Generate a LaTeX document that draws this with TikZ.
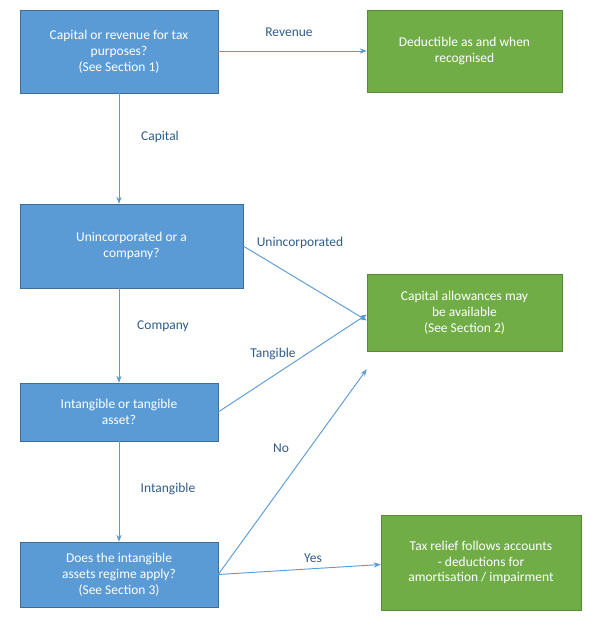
\documentclass[tikz,border=0pt]{standalone}
\usepackage{fontspec}
\setmainfont{Carlito}
\usetikzlibrary{positioning, arrows.meta}
\definecolor{boxblue}{HTML}{5B9BD5}
\definecolor{boxgreen}{HTML}{70AD47}
\definecolor{lineblue}{HTML}{5B9BD5}
\definecolor{textblue}{HTML}{2E5C8A}
\tikzset{
    x=0.03cm, y=-0.03cm,
    question/.style={draw=boxblue!70!black, fill=boxblue, text=white, align=center, inner sep=2pt, font=\fontsize{11.5}{13.5}\selectfont},
    outcome/.style={draw=boxgreen!80!black, fill=boxgreen, text=white, align=center, inner sep=2pt, font=\fontsize{11.5}{13.5}\selectfont},
    flow/.style={->, >={Stealth[length=6pt]}, draw=lineblue, thick},
    choice/.style={text=textblue, font=\fontsize{11.5}{13.5}\selectfont}
}
\begin{document}
\begin{tikzpicture}
\useasboundingbox (0,0) rectangle (600,640);
% questions
\node[question, minimum width=198*0.03cm, minimum height=83*0.03cm] (tax) at (119,51.5) {Capital or revenue for tax\\purposes?\\(See Section 1)};
\node[question, minimum width=223*0.03cm, minimum height=84*0.03cm] (entity) at (131.5,246) {Unincorporated or a\\company?};
\node[question, minimum width=198*0.03cm, minimum height=58*0.03cm] (asset) at (119,412) {Intangible or tangible\\asset?};
\node[question, minimum width=198*0.03cm, minimum height=65*0.03cm] (regime) at (119,574.5) {Does the intangible\\assets regime apply?\\(See Section 3)};
% outcomes
\node[outcome, minimum width=195*0.03cm, minimum height=82*0.03cm] (deduct) at (464.5,51) {Deductible as and when\\recognised};
\node[outcome, minimum width=195*0.03cm, minimum height=77*0.03cm] (allow) at (464.5,312.5) {Capital allowances may\\be available\\(See Section 2)};
\node[outcome, minimum width=200*0.03cm, minimum height=95*0.03cm] (relief) at (481,562.5) {Tax relief follows accounts\\- deductions for\\amortisation / impairment};
% connectors
\draw[flow] (tax.east |- deduct.west) -- (deduct.west);
\draw[flow] (tax.south) -- (tax.south |- entity.north);
\draw[flow] (entity.east) -- ([yshift=-8*0.03cm]allow.west);
\draw[flow] (tax.south |- entity.south) -- (asset.north);
\draw[flow] (asset.east) -- ([yshift=-2*0.03cm]allow.west);
\draw[flow] (asset.south) -- (regime.north);
\draw[flow] (regime.east) -- ([yshift=-18*0.03cm]allow.south west);
\draw[flow] (regime.east) -- ([yshift=-2*0.03cm]relief.west);
% labels
\node[choice] (lrev) at (289,32) {Revenue};
\node[choice] (lcap) at (160,137) {Capital};
\node[choice] (lunin) at (300,243) {Unincorporated};
\node[choice] (lcomp) at (163,326) {Company};
\node[choice] (ltang) at (273,354) {Tangible};
\node[choice] (lno) at (281,448) {No};
\node[choice] (lint) at (168,489) {Intangible};
\node[choice] (lyes) at (313,558) {Yes};
\end{tikzpicture}
\end{document}
